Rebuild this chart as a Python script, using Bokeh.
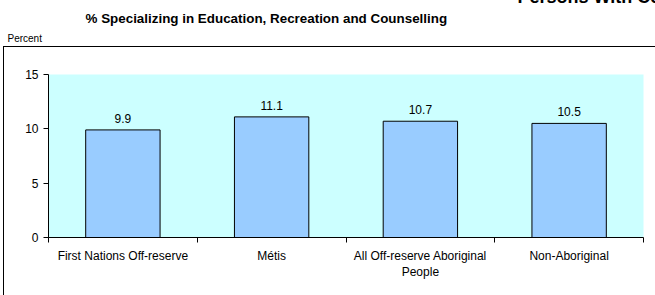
from bokeh.plotting import figure
from bokeh.models import Range1d, FixedTicker, Title, ColumnDataSource, InlineStyleSheet
from bokeh.embed import file_html
from bokeh.resources import INLINE

categories = ["First Nations Off-reserve", "Métis", "All Off-reserve Aboriginal\nPeople", "Non-Aboriginal"]
values = [9.9, 11.1, 10.7, 10.5]
value_labels = ["9.9", "11.1", "10.7", "10.5"]
y_ticks = [0, 5, 10, 15]

FONT = "Liberation Sans"
M = 17                      # canvas extends M px above the window
W, H = 655, 295 + M
FL, FR, FB = 48, 643, 237 + M
n = len(categories)
YMAX = 15

p = figure(width=W, height=H, x_range=Range1d(0, n), y_range=Range1d(0, YMAX),
           output_backend="svg", toolbar_location=None,
           min_border_left=FL, min_border_right=W - FR, min_border_top=0, min_border_bottom=H - FB)
p.margin = (-M, 0, 0, 0)
p.background_fill_color = "#CCFFFF"
p.border_fill_color = "white"
p.outline_line_color = None
p.xgrid.visible = False
p.ygrid.visible = False

# outer panel border (left and top edges only visible in the window)
p.stylesheets = [InlineStyleSheet(css=(
    ":host::after{content:'';position:absolute;left:3px;top:%dpx;right:0;bottom:0;"
    "border-left:1px solid #000;border-top:1px solid #000;pointer-events:none;}" % (46 + M)))]

centers = [i + 0.5 for i in range(n)]
src = ColumnDataSource(dict(x=centers, top=values, lab=value_labels))
p.vbar(x="x", top="top", width=0.5, source=src, fill_color="#99CCFF", line_color="black", line_width=1)
p.text(x="x", y="top", text="lab", source=src, text_align="center", text_baseline="bottom",
       y_offset=-7, text_font_size="12px", text_font={"value": FONT}, text_color="black")

xa = p.xaxis[0]
xa.ticker = FixedTicker(ticks=centers, minor_ticks=[float(i) for i in range(n + 1)])
xa.major_label_overrides = {c: lab for c, lab in zip(centers, categories)}
xa.major_tick_line_color = None
xa.major_tick_in = 0
xa.major_tick_out = 5
xa.minor_tick_in = 0
xa.minor_tick_out = 5
xa.minor_tick_line_color = "black"
xa.axis_line_color = "black"
xa.major_label_text_font = FONT
xa.major_label_text_font_size = "12px"
xa.major_label_text_color = "black"
xa.major_label_standoff = 6

ya = p.yaxis[0]
ya.ticker = FixedTicker(ticks=y_ticks, minor_ticks=[])
ya.major_tick_in = 0
ya.major_tick_out = 5
ya.major_tick_line_color = "black"
ya.axis_line_color = "black"
ya.major_label_text_font = FONT
ya.major_label_text_font_size = "12px"
ya.major_label_text_color = "black"
ya.major_label_standoff = 5

# main (outermost) title, cut off at the top of the window as in the reference
p.title.text = "Persons With Certificates"
p.title.text_font = FONT
p.title.text_font_size = "18px"
p.title.text_font_style = "bold"
p.title.text_color = "black"
p.title.align = "left"
p.title.vertical_align = "bottom"
p.title.offset = 517 - FL
p.title.standoff = 3

# spacer (closest to frame)
p.add_layout(Title(text=" ", text_font=FONT, text_font_size="10px", standoff=13,
                   vertical_align="bottom"), "above")
p.add_layout(Title(text="Percent", text_font=FONT, text_font_size="10px", text_font_style="normal",
                   align="left", vertical_align="bottom", offset=7 - FL, standoff=10,
                   text_color="black"), "above")
p.add_layout(Title(text="% Specializing in Education, Recreation and Counselling",
                   text_font=FONT, text_font_size="13.4px", text_font_style="bold",
                   align="left", vertical_align="bottom", offset=85 - FL, standoff=0,
                   text_color="black"), "above")

open("out.html", "w").write(file_html(p, INLINE))
